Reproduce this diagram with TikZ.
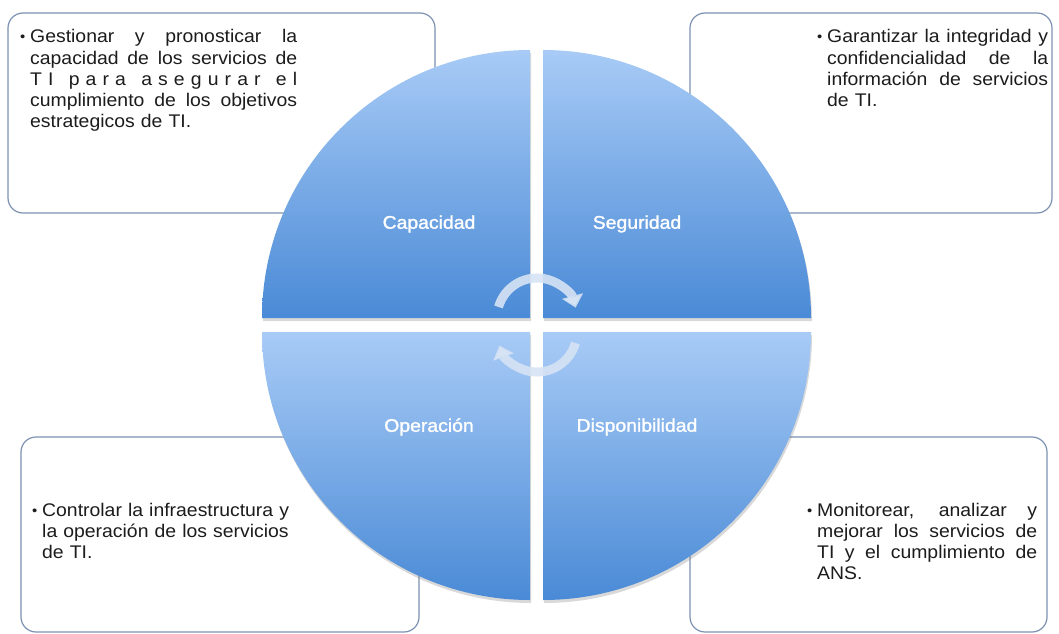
\documentclass[tikz,border=0pt]{standalone}
\usepackage{fontspec}
\setmainfont[FakeStretch=1.06]{Liberation Sans}
\newfontfamily\lblfont[FakeStretch=1.06,FakeBold=1.4]{Liberation Sans}
\usetikzlibrary{arrows.meta,shadows}

\definecolor{quadlight}{HTML}{A8CBF6}
\definecolor{quaddark}{HTML}{4A8AD6}
\definecolor{boxline}{HTML}{7C91B1}
\definecolor{arrowfill}{HTML}{D6E3F4}
\definecolor{notetext}{HTML}{1C1C1C}

\newcommand{\jline}[1]{{\spaceskip=.28em plus 1fil\xspaceskip=.28em plus 1fil\makebox[\linewidth][s]{#1}}}
\newcommand{\dotmark}{\llap{\raisebox{1pt}{\fontsize{14}{14}\selectfont\textbullet}\hspace{5pt}}}
\newcommand{\wgap}{\hfil\hfil\kern3pt}

\tikzset{
  quad/.style={top color=quadlight, bottom color=quaddark,
    drop shadow={opacity=0.3, shadow xshift=1pt, shadow yshift=-3pt}},
  notebox/.style={draw=boxline, line width=1.2pt, rounded corners=15pt, fill=white},
  notetxt/.style={anchor=base west, inner sep=0pt, align=left, text=notetext,
    font=\fontsize{18.3}{21.25}\selectfont},
  quadlbl/.style={text=white, font=\lblfont\fontsize{18.3}{20}\selectfont},
  turn/.style={draw=arrowfill, draw opacity=0.9, line width=9pt,
    -{Triangle[width=21pt,length=12pt]}}
}

\begin{document}
\begin{tikzpicture}[x=1pt,y=1pt]
\useasboundingbox (0,0) rectangle (1059,633);

% boxes behind the circle
\draw[notebox] (8,420) rectangle (435,620);
\draw[notebox] (690,420) rectangle (1052,620);
\draw[notebox] (21,1) rectangle (419,196);
\draw[notebox] (690,1) rectangle (1047,196);

% four quarters
\foreach \cx/\cy/\a in {530/315/90, 543/315/0, 530/301/180, 543/301/270} {
\path[quad] (\cx,\cy) -- ++(\a:268pt) arc[start angle=\a, delta angle=90, radius=268pt] -- cycle;}

\node[quadlbl] (capacidad) at (429,409) {Capacidad};
\node[quadlbl] (seguridad) at (637,409) {Seguridad};
\node[quadlbl] (operacion) at (429,206) {Operación};
\node[quadlbl] (disponib) at (637,206) {Disponibilidad};

% turning arrows
\draw[turn] (537,315) ++(164:40pt) arc[start angle=164, end angle=15, radius=40pt];
\draw[turn] (537,301) ++(-16:40pt) arc[start angle=-16, end angle=-160, radius=40pt];

% texts
\node[notetxt, text width=267pt] (notecap) at (30,590) {%
\dotmark\jline{Gestionar y pronosticar la}\\
\jline{capacidad de los servicios de}\\
\jline{T\hfil I\wgap p\hfil a\hfil r\hfil a\wgap a\hfil s\hfil e\hfil g\hfil u\hfil r\hfil a\hfil r\wgap e\hfil l}\\
\jline{cumplimiento de los objetivos}\\
estrategicos de TI.};

\node[notetxt, text width=221pt] (noteseg) at (827,590) {%
\dotmark\jline{Garantizar la integridad y}\\
\jline{confidencialidad de la}\\
\jline{información de servicios}\\
de TI.};

\node[notetxt, text width=250pt] (noteope) at (42,117) {%
\dotmark Controlar la infraestructura y\\
la operación de los servicios\\
de TI.};

\node[notetxt, text width=220pt] (notedis) at (817,117) {%
\dotmark\jline{Monitorear, analizar y}\\
\jline{mejorar los servicios de}\\
\jline{TI y el cumplimiento de}\\
ANS.};

\end{tikzpicture}
\end{document}
